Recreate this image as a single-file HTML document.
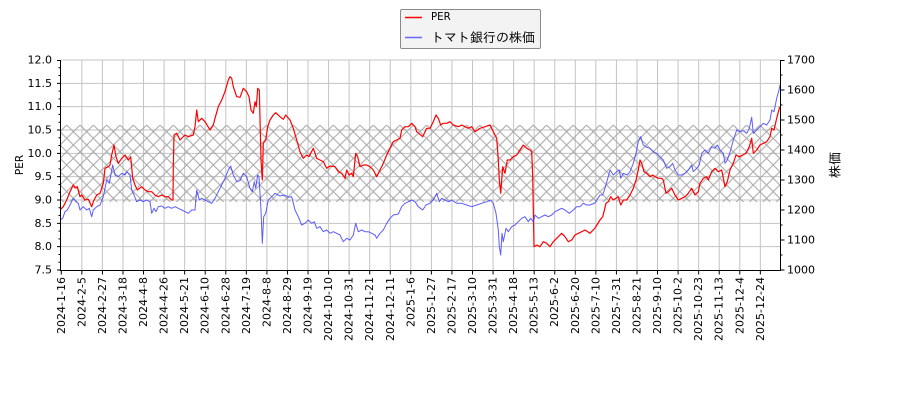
<!DOCTYPE html>
<html><head><meta charset="utf-8"><style>
html,body{margin:0;padding:0;background:#fff;}
svg{display:block;}
.t{font-family:"DejaVu Sans","Liberation Sans",sans-serif;font-size:11px;fill:#000;}
.j{font-family:"Liberation Sans","IPAGothic","Noto Sans CJK JP",sans-serif;font-size:13px;fill:#000;}
</style></head><body>
<svg width="900" height="400" viewBox="0 0 900 400" xmlns="http://www.w3.org/2000/svg">
<defs>
<pattern id="h" patternUnits="userSpaceOnUse" x="66.7" y="125" width="13.33" height="13.33">
<path d="M-2,-2L15.33,15.33M15.33,-2L-2,15.33" stroke="#a6a6a6" stroke-width="1" fill="none"/>
</pattern>
<clipPath id="pc"><rect x="60.5" y="60" width="720" height="210"/></clipPath>
</defs>
<rect width="900" height="400" fill="#fff"/>
<!-- grid -->
<g stroke="#c4c4c4" stroke-width="1" fill="none">
<path d="M61,60H780M61,83.33H780M61,106.67H780M61,130H780M61,153.33H780M61,176.67H780M61,200H780M61,223.33H780M61,246.67H780"/>
<path d="M81.86,60V270M102.42,60V270M122.98,60V270M143.54,60V270M164.1,60V270M184.66,60V270M205.22,60V270M225.78,60V270M246.34,60V270M266.9,60V270M287.46,60V270M308.02,60V270M328.58,60V270M349.14,60V270M369.7,60V270M390.26,60V270M410.82,60V270M431.38,60V270M451.94,60V270M472.5,60V270M493.06,60V270M513.62,60V270M534.18,60V270M554.74,60V270M575.3,60V270M595.86,60V270M616.42,60V270M636.98,60V270M657.54,60V270M678.1,60V270M698.66,60V270M719.22,60V270M739.78,60V270M760.34,60V270"/>
</g>
<!-- hatch band -->
<rect x="61" y="125" width="719.5" height="77" fill="url(#h)"/>
<g clip-path="url(#pc)" fill="none" stroke-linejoin="round">
<polyline stroke="#ff0000" stroke-width="1.2" points="60,210 63.3,206.7 66.7,200 70,191.7 73.3,185 75,188 77.3,186.7 80,196.7 81.7,195 85,200 88.3,199.3 91.7,206.7 93.3,201.7 96.7,195 100,193.3 103.3,183.3 105,168.3 108.3,166.7 110,165 111.7,155 114,145 116,156.7 118.3,163.3 121.7,158.3 125,155 128.3,160 130.7,156.7 132.7,178.3 135,185 137.3,190 141.7,186.7 145,190 148.3,191.7 151.7,191.7 155,195 158.3,196.7 161.7,195 165,196.7 168.3,196.7 171.7,200 173,200 173.3,166.7 174,135 176.7,133.3 180,140 185,135 188.3,136.7 193.3,135 195,126.7 196.7,110 198.3,121.7 201.7,118.3 205,121.7 210,130 213.3,125 215,118.3 218.3,106.7 221.7,100 225,91.7 228.3,80 230,76.7 231.7,78.3 233.3,86.7 236.7,96.7 240,97.3 243.3,88.3 246.7,91.7 249,96.7 251,110 253.3,113.3 255,101.7 256.3,106.7 257.7,88.3 259.3,90 261,160 262.3,180 263.3,143.3 265.7,140 267.7,126.7 270,120 273.3,115 275.7,112.7 280,116.7 283.3,119.3 285.7,115 290,120 293.3,128.3 296.7,140 300,151.7 303.3,158.3 306.7,155 309,156.7 313.3,148.3 316.7,158.3 320,160 323.3,161.7 326.7,168.3 330,166 335,166.7 338.3,171.7 341.7,173.3 345,178.3 346.7,170 349,175 351.7,173.3 353.3,176.7 355.7,153.3 357.7,156.7 360,166.7 363.3,165 366.7,165 370,166.7 373.3,170 376.7,176.7 380,170 383.3,163.3 386.7,155 390,148.3 393.3,141.7 396.7,140 400,138.3 401.7,130 405,126.7 408.3,126.7 411.7,123.3 415,126.7 416.7,131.7 422.7,136.7 426.7,128.3 430,128.3 433.3,121.7 436,115 438.3,118.3 440.7,125 443.3,123.3 446.7,123.3 450,121.7 453.3,125 458.3,126.7 461.7,125 465,126.7 468.3,128.3 471.7,126.7 475,131.7 480,128.3 485,126.7 490,125 493.3,131.7 496.7,138.3 498.3,160 499.3,180 500.7,193.3 502.7,166.7 505,173.3 507.3,160 510,160 513.3,156.7 516.7,155 520,150 523.3,145 526.7,148.3 530,150 531.7,151.7 532.7,176.7 534,246.7 536.7,245 540,246.7 543.3,241.7 546.7,243.3 550,246.7 553.3,241.7 558.3,236.7 561.7,233.3 565,236.7 568.3,241.7 571.7,240 575,235 578.3,233.3 581.7,231.7 585,230 590,233.3 595,228 600,220 602.7,216.7 604,211.7 606,203.3 608.3,201.7 610.7,196.7 613.3,200 616,198.3 618.3,196.7 620.7,205 623.3,200 626.7,200 630,195 633.3,188.3 636,180 638.3,170 640,160 641.7,163.3 644,171.7 646.7,173.3 650,176.7 652.7,175 655,176.7 658.3,178.3 661.7,178.3 663.3,180 666,193.3 668.3,191.7 671.7,188.3 675,195 678.3,200 681.7,198.3 685,196.7 688.3,193.3 691.7,188.3 695,195 698.3,191.7 700,183.3 703.3,178.3 706.7,176.7 708.3,180 711.7,171.7 715,168.3 718.3,171.7 721.7,170 725,186.7 727.3,181.7 730,170 733.3,163.3 736,155 739.3,156.7 742.7,155 746,153.3 749.3,146.7 751.7,138.3 753.3,153.3 756.7,150 760,145 763.3,143.3 766.7,141.7 770,136.7 771.7,128.3 774,130 776.7,118.3 779.3,108.3 780,106.7"/>
<polyline stroke="#4040ff" stroke-opacity="0.85" stroke-width="1" points="60,220 62.7,218.3 65,211.7 67.3,210 70,205 73.3,198.3 76,201.7 78.3,203.3 80,210 83.3,206.7 86.7,210 89.3,208.3 91.7,216.7 93.3,210 96.7,206.7 100,205 103.3,196.7 106.7,180 109.3,183.3 112.7,165 115,175 118.3,176.7 121.7,173.3 125,175 126.7,171.7 130,175 131.7,190 134,195 136.7,201.7 140,200 143.3,201.7 146.7,200 150,201.7 151.7,213.3 154,208.3 156,211.7 158.3,206.7 161.7,206 165,208.3 168.3,206.7 171.7,208.3 175,206.7 178.3,208.3 181.7,210 185,211.7 188.3,213.3 191.7,210 195,210 196.7,190 199.3,200 201.7,198.3 205,200 208.3,201.7 211.7,203.3 215,198.3 218.3,191.7 221.7,185 225,178.3 228.3,170 230.7,166 233.3,175 236.7,181.7 240,180.7 241.7,176.7 243.3,173.3 246.7,176.7 250,188.3 252.3,191.7 254.3,181.7 255.7,188.3 257.7,175 259,176.7 261,210 262.3,243.3 263.7,216.7 265.7,213.3 268.3,200 271.7,196.7 275,193.3 280,196 285,195 288.3,197.3 291.7,196.7 295,210 298.3,216.7 301.7,225 305,223.3 308.3,220 311.7,223.3 314.3,221.7 316.7,228.3 320,226.7 323.3,231.7 326.7,230 330,233.3 333.3,231.7 336.7,233.3 340,235 343.3,241.7 346.7,238.3 350,240 353.3,235 355.7,223.3 358.3,231.7 361.7,230 365,231.7 368.3,231.7 371.7,233.3 375,235 376.7,238.3 380,233.3 383.3,230 386.7,223.3 390,218.3 393.3,215 398.3,214 401.7,206.7 405,203.3 408.3,201.7 411.7,200 415,201.7 418.3,206.7 422.7,210 426,205 430,203.3 433.3,200 436.7,193.3 439.3,201.7 441.7,198.3 445,200 448.3,201.7 451.7,200 456.7,203.3 461.7,203.3 466.7,205 471.7,206.7 476.7,205 481.7,203.3 486.7,201.7 490.7,200 493.3,203.3 496,213.3 498.3,230 499.3,246.7 500.7,255 502,233.3 503.3,241.7 506,228.3 508.3,231.7 511.7,226.7 515,225 518.3,221.7 521.7,218.3 525,216.7 528.3,221.7 530.7,218.3 533.3,221.7 535,215 538.3,218.3 541.7,216.7 545,215 548.3,216.7 551.7,215 555,211.7 558.3,210 561.7,208.3 565,210 569.3,213.3 573.3,210 576.7,206.7 580,206.7 583.3,203.3 586.7,205 590,205 595,203 600,195 602.7,195 605,188.3 607.3,180 610,170 613.3,175 616.7,171.7 619.3,170 620.7,178.3 623.3,173.3 627.3,175 630,171.7 633.3,163.3 636,153.3 638.3,141.7 640.7,136.7 643.3,145 646.7,147.3 650,148.3 653.3,151.7 656.7,153.3 660,156.7 663.3,160 666.7,168.3 670,166.7 672.7,163.3 675,170 678.3,175 681.7,175 685,173.3 688.3,170 691.7,165 693.3,171.7 696.7,168.3 699.3,165 701.7,153.3 705,150 708.3,153.3 711.7,146.7 715,148.3 717.3,145 720,150 723.3,153.3 725,163.3 727.3,160 730.7,150 733.3,140 736.7,130 740,131.7 743.3,130.7 746.7,133.3 749.3,128.3 751.7,117.3 753.3,133.3 756.7,130 760,126.7 763.3,123.3 766.7,125 770,120 771.7,110 774,111.7 776.7,98.3 779,90 780,85"/>
</g>
<!-- spines -->
<g stroke="#000" stroke-width="1" fill="none">
<path d="M60.5,60V270.5H780.5V60"/>
<!-- left major ticks -->
<path d="M57,60.5H60.5M57,83.33H60.5M57,106.67H60.5M57,130H60.5M57,153.33H60.5M57,176.67H60.5M57,200H60.5M57,223.33H60.5M57,246.67H60.5M57,270H60.5"/>
<!-- left minor ticks -->
<path d="M58.5,67.78H60.5M58.5,75.56H60.5M58.5,91.11H60.5M58.5,98.89H60.5M58.5,114.44H60.5M58.5,122.22H60.5M58.5,137.78H60.5M58.5,145.56H60.5M58.5,161.11H60.5M58.5,168.89H60.5M58.5,184.44H60.5M58.5,192.22H60.5M58.5,207.78H60.5M58.5,215.56H60.5M58.5,231.11H60.5M58.5,238.89H60.5M58.5,254.44H60.5M58.5,262.22H60.5"/>
<!-- right major ticks -->
<path d="M780.5,60.5H784.5M780.5,90H784.5M780.5,120H784.5M780.5,150H784.5M780.5,180H784.5M780.5,210H784.5M780.5,240H784.5M780.5,270H784.5"/>
<path d="M780.5,75H782.5M780.5,105H782.5M780.5,135H782.5M780.5,165H782.5M780.5,195H782.5M780.5,225H782.5M780.5,255H782.5"/>
<!-- bottom ticks -->
<path d="M61.3,270V274.5M81.86,270V274.5M102.42,270V274.5M122.98,270V274.5M143.54,270V274.5M164.1,270V274.5M184.66,270V274.5M205.22,270V274.5M225.78,270V274.5M246.34,270V274.5M266.9,270V274.5M287.46,270V274.5M308.02,270V274.5M328.58,270V274.5M349.14,270V274.5M369.7,270V274.5M390.26,270V274.5M410.82,270V274.5M431.38,270V274.5M451.94,270V274.5M472.5,270V274.5M493.06,270V274.5M513.62,270V274.5M534.18,270V274.5M554.74,270V274.5M575.3,270V274.5M595.86,270V274.5M616.42,270V274.5M636.98,270V274.5M657.54,270V274.5M678.1,270V274.5M698.66,270V274.5M719.22,270V274.5M739.78,270V274.5M760.34,270V274.5"/>
</g>
<!-- left tick labels -->
<g class="t" text-anchor="end" dominant-baseline="central">
<text x="52" y="60">12.0</text><text x="52" y="83.33">11.5</text><text x="52" y="106.67">11.0</text><text x="52" y="130">10.5</text><text x="52" y="153.33">10.0</text><text x="52" y="176.67">9.5</text><text x="52" y="200">9.0</text><text x="52" y="223.33">8.5</text><text x="52" y="246.67">8.0</text><text x="52" y="270">7.5</text>
</g>
<!-- right tick labels -->
<g class="t" text-anchor="start" dominant-baseline="central">
<text x="787" y="60">1700</text><text x="787" y="90">1600</text><text x="787" y="120">1500</text><text x="787" y="150">1400</text><text x="787" y="180">1300</text><text x="787" y="210">1200</text><text x="787" y="240">1100</text><text x="787" y="270">1000</text>
</g>
<!-- x labels -->
<g class="t" text-anchor="end" dominant-baseline="central">
<text transform="translate(61.3,277) rotate(-90)">2024-1-16</text>
<text transform="translate(81.86,277) rotate(-90)">2024-2-5</text>
<text transform="translate(102.42,277) rotate(-90)">2024-2-27</text>
<text transform="translate(122.98,277) rotate(-90)">2024-3-18</text>
<text transform="translate(143.54,277) rotate(-90)">2024-4-8</text>
<text transform="translate(164.1,277) rotate(-90)">2024-4-26</text>
<text transform="translate(184.66,277) rotate(-90)">2024-5-21</text>
<text transform="translate(205.22,277) rotate(-90)">2024-6-10</text>
<text transform="translate(225.78,277) rotate(-90)">2024-6-28</text>
<text transform="translate(246.34,277) rotate(-90)">2024-7-19</text>
<text transform="translate(266.9,277) rotate(-90)">2024-8-8</text>
<text transform="translate(287.46,277) rotate(-90)">2024-8-29</text>
<text transform="translate(308.02,277) rotate(-90)">2024-9-19</text>
<text transform="translate(328.58,277) rotate(-90)">2024-10-10</text>
<text transform="translate(349.14,277) rotate(-90)">2024-10-31</text>
<text transform="translate(369.7,277) rotate(-90)">2024-11-21</text>
<text transform="translate(390.26,277) rotate(-90)">2024-12-11</text>
<text transform="translate(410.82,277) rotate(-90)">2025-1-6</text>
<text transform="translate(431.38,277) rotate(-90)">2025-1-27</text>
<text transform="translate(451.94,277) rotate(-90)">2025-2-17</text>
<text transform="translate(472.5,277) rotate(-90)">2025-3-10</text>
<text transform="translate(493.06,277) rotate(-90)">2025-3-31</text>
<text transform="translate(513.62,277) rotate(-90)">2025-4-18</text>
<text transform="translate(534.18,277) rotate(-90)">2025-5-13</text>
<text transform="translate(554.74,277) rotate(-90)">2025-6-2</text>
<text transform="translate(575.3,277) rotate(-90)">2025-6-20</text>
<text transform="translate(595.86,277) rotate(-90)">2025-7-10</text>
<text transform="translate(616.42,277) rotate(-90)">2025-7-31</text>
<text transform="translate(636.98,277) rotate(-90)">2025-8-21</text>
<text transform="translate(657.54,277) rotate(-90)">2025-9-10</text>
<text transform="translate(678.1,277) rotate(-90)">2025-10-2</text>
<text transform="translate(698.66,277) rotate(-90)">2025-10-23</text>
<text transform="translate(719.22,277) rotate(-90)">2025-11-13</text>
<text transform="translate(739.78,277) rotate(-90)">2025-12-4</text>
<text transform="translate(760.34,277) rotate(-90)">2025-12-24</text>
</g>
<!-- axis labels -->
<text class="t" style="font-size:10.5px" text-anchor="middle" dominant-baseline="central" transform="translate(20,165) rotate(-90)">PER</text>
<text class="j" text-anchor="middle" dominant-baseline="central" transform="translate(835,165) rotate(-90)">株価</text>
<!-- legend -->
<rect x="400.5" y="9.5" width="140" height="39" rx="1.5" fill="#f3f3f3" stroke="#8a8a8a" stroke-width="1"/>
<line x1="405" y1="17.5" x2="422" y2="17.5" stroke="#ff0000" stroke-width="1.4"/>
<text class="t" style="font-size:10.2px" x="431" y="17.5" dominant-baseline="central">PER</text>
<line x1="405" y1="37.5" x2="422" y2="37.5" stroke="#6666ff" stroke-width="1.4"/>
<text class="j" x="431" y="37.5" dominant-baseline="central">トマト銀行の株価</text>
</svg>
</body></html>
